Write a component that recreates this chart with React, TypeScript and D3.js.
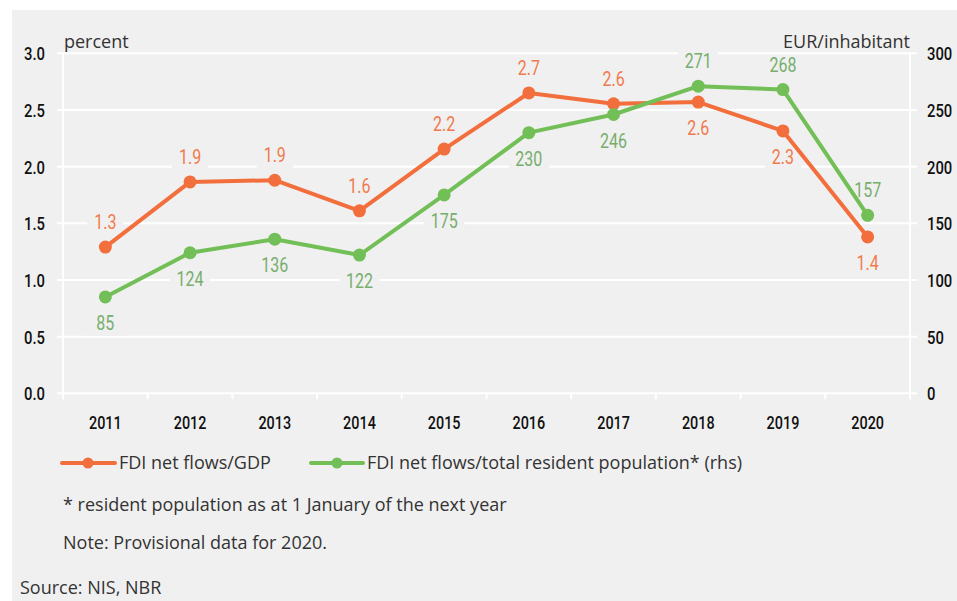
import React from "react";
import * as d3 from "d3";

const years = ["2011", "2012", "2013", "2014", "2015", "2016", "2017", "2018", "2019", "2020"];
const gdpValues = [1.29, 1.865, 1.88, 1.61, 2.155, 2.65, 2.555, 2.57, 2.315, 1.38];
const gdpLabels = ["1.3", "1.9", "1.9", "1.6", "2.2", "2.7", "2.6", "2.6", "2.3", "1.4"];
const gdpLabelBelow = [false, false, false, false, false, false, false, true, true, true];
const popValues = [85, 124, 136, 122, 175, 230, 246, 271, 268, 157];
const popLabelAbove = [false, false, false, false, false, false, false, true, true, true];
const leftTicks = [0, 0.5, 1, 1.5, 2, 2.5, 3];
const rightTicks = [0, 50, 100, 150, 200, 250, 300];

const ORANGE = "#f26f3d";
const GREEN = "#72bf57";
const ORANGE_TXT = "#f07a4c";
const GREEN_TXT = "#77ae6d";
const BG = "#f0f0f0";
const COND = "Roboto, 'Noto Sans', sans-serif";
const REG = "'Open Sans', 'Noto Sans', sans-serif";

type CTProps = {
  x: number; y: number; anchor?: "start" | "middle" | "end"; size: number; weight?: number;
  fill: string; sx?: number; children: React.ReactNode;
};
function CText({ x, y, anchor = "start", size, weight = 400, fill, sx = 0.8, children }: CTProps) {
  return (
    <text transform={`translate(${x},${y}) scale(${sx},1)`} textAnchor={anchor} fontFamily={COND}
      fontSize={size} fontWeight={weight} fill={fill}>
      {children}
    </text>
  );
}

export default function App() {
  const W = 957, H = 601;
  const left = 63, right = 910, top = 53.3, bottom = 393.3;
  const x = d3.scaleBand<string>().domain(years).range([left, right]);
  const yL = d3.scaleLinear().domain([0, 3]).range([bottom, top]);
  const yR = d3.scaleLinear().domain([0, 300]).range([bottom, top]);
  const cx = (y: string) => (x(y) as number) + x.bandwidth() / 2;
  const lineL = d3.line<number>().x((_, i) => cx(years[i])).y((d) => yL(d));
  const lineR = d3.line<number>().x((_, i) => cx(years[i])).y((d) => yR(d));

  const labelBox = (tx: number, ty: number, w: number) => (
    <rect x={tx - w / 2 - 6} y={ty - 17} width={w + 12} height={23} fill={BG} />
  );

  return (
    <svg width={W} height={H} style={{ position: "absolute", left: 0, top: 0 }}>
      <rect x={0} y={0} width={W} height={H} fill="#ffffff" />
      <rect x={12} y={10} width={W - 12} height={H - 10} fill={BG} />
      {leftTicks.map((t) => (
        <line key={"g" + t} x1={57} x2={917} y1={yL(t)} y2={yL(t)} stroke="#ffffff" strokeWidth={2} />
      ))}
      <line x1={left} x2={left} y1={top} y2={bottom + 6} stroke="#ffffff" strokeWidth={2} />
      <line x1={right} x2={right} y1={top} y2={bottom + 6} stroke="#ffffff" strokeWidth={2} />
      {years.map((yr) => (
        <line key={"t" + yr} x1={(x(yr) as number)} x2={(x(yr) as number)} y1={bottom} y2={bottom + 6} stroke="#ffffff" strokeWidth={2} />
      ))}
      {leftTicks.map((t) => (
        <CText key={"l" + t} x={45} y={yL(t) + 7} anchor="end" size={19} weight={500} fill="#111" sx={0.78}>
          {d3.format(".1f")(t)}
        </CText>
      ))}
      {rightTicks.map((t) => (
        <CText key={"r" + t} x={927} y={yR(t) + 7} anchor="start" size={19} weight={500} fill="#111" sx={0.78}>
          {t}
        </CText>
      ))}
      {years.map((yr) => (
        <CText key={"x" + yr} x={cx(yr)} y={429} anchor="middle" size={18} weight={500} fill="#111" sx={0.8}>
          {yr}
        </CText>
      ))}
      <text x={64} y={48} fontFamily={REG} fontSize={18} fill="#333">percent</text>
      <text x={910} y={48} textAnchor="end" fontFamily={REG} fontSize={18} fill="#333">EUR/inhabitant</text>

      {gdpValues.map((v, i) => {
        const tx = cx(years[i]);
        const ty = gdpLabelBelow[i] ? yL(v) + 33 : yL(v) - 18;
        return (
          <g key={"gl" + i}>
            {labelBox(tx, ty, 24)}
            <CText x={tx} y={ty} anchor="middle" size={20} fill={ORANGE_TXT} sx={0.8}>{gdpLabels[i]}</CText>
          </g>
        );
      })}
      {popValues.map((v, i) => {
        const tx = cx(years[i]);
        const ty = popLabelAbove[i] ? yR(v) - 18 : yR(v) + 33;
        return (
          <g key={"pl" + i}>
            {labelBox(tx, ty, 28)}
            <CText x={tx} y={ty} anchor="middle" size={20} fill={GREEN_TXT} sx={0.8}>{v}</CText>
          </g>
        );
      })}

      <path d={lineL(gdpValues) as string} fill="none" stroke={ORANGE} strokeWidth={4} strokeLinejoin="round" />
      {gdpValues.map((v, i) => (
        <circle key={"gc" + i} cx={cx(years[i])} cy={yL(v)} r={6.5} fill={ORANGE} />
      ))}
      <path d={lineR(popValues) as string} fill="none" stroke={GREEN} strokeWidth={4} strokeLinejoin="round" />
      {popValues.map((v, i) => (
        <circle key={"pc" + i} cx={cx(years[i])} cy={yR(v)} r={6.5} fill={GREEN} />
      ))}

      <line x1={62} x2={115} y1={463} y2={463} stroke={ORANGE} strokeWidth={4} strokeLinecap="round" />
      <circle cx={88} cy={463} r={5.5} fill={ORANGE} />
      <text x={119} y={469} fontFamily={REG} fontSize={18} fill="#333">FDI net flows/GDP</text>
      <line x1={311} x2={363} y1={463} y2={463} stroke={GREEN} strokeWidth={4} strokeLinecap="round" />
      <circle cx={337} cy={463} r={5.5} fill={GREEN} />
      <text x={367} y={469} fontFamily={REG} fontSize={18} fill="#333">FDI net flows/total resident population* (rhs)</text>
      <text x={63} y={511} fontFamily={REG} fontSize={18} fill="#333">* resident population as at 1 January of the next year</text>
      <text x={63} y={549} fontFamily={REG} fontSize={18} fill="#333">Note: Provisional data for 2020.</text>
      <text x={20} y={594} fontFamily={REG} fontSize={18} fill="#333">Source: NIS, NBR</text>
    </svg>
  );
}
